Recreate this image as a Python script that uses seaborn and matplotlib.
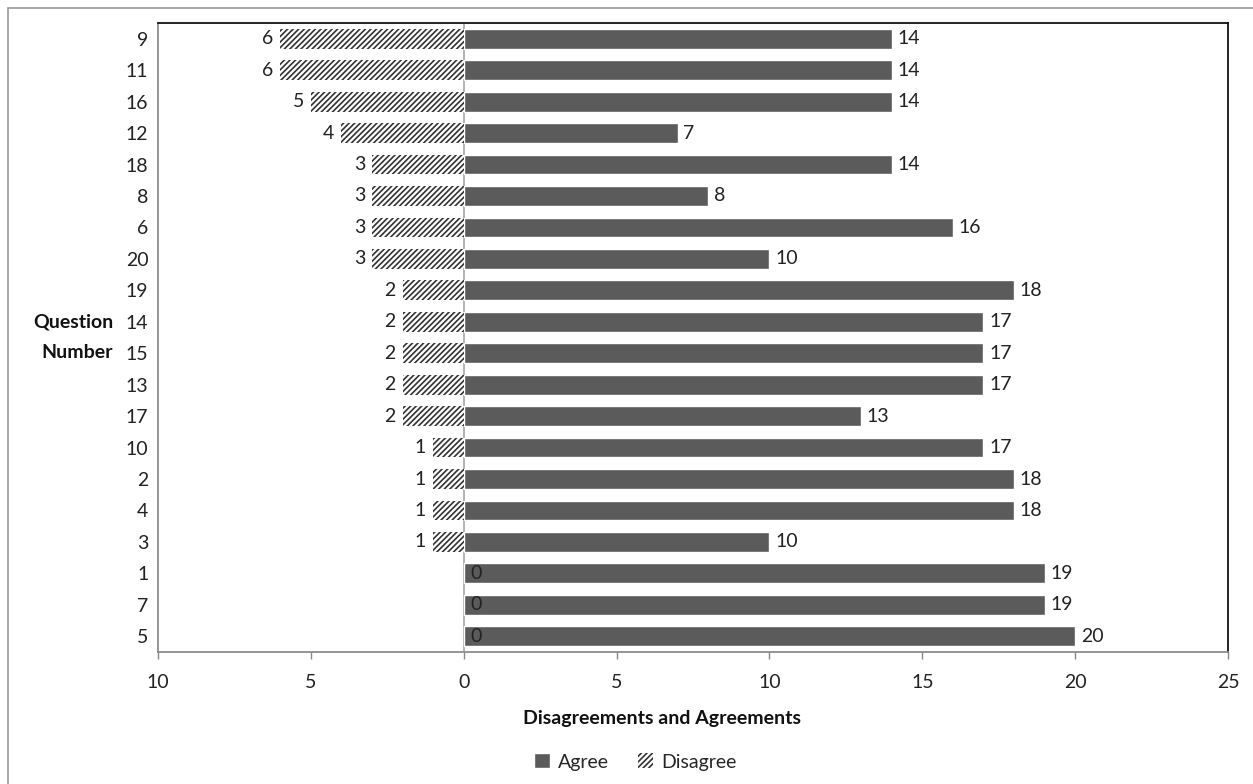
import matplotlib
matplotlib.use("Agg")
import matplotlib.pyplot as plt
import matplotlib.patches as mpatches
import seaborn as sns
import pandas as pd

# Data (top to bottom)
questions = ["9", "11", "16", "12", "18", "8", "6", "20", "19", "14",
             "15", "13", "17", "10", "2", "4", "3", "1", "7", "5"]
agree = [14, 14, 14, 7, 14, 8, 16, 10, 18, 17, 17, 17, 13, 17, 18, 18, 10, 19, 19, 20]
disagree = [6, 6, 5, 4, 3, 3, 3, 3, 2, 2, 2, 2, 2, 1, 1, 1, 1, 0, 0, 0]
x_ticks = [-10, -5, 0, 5, 10, 15, 20, 25]

df = pd.DataFrame({"Question": questions, "Agree": agree,
                   "Disagree": [-d for d in disagree]})

sns.set_style("white")
plt.rcParams["font.family"] = ["Lato", "DejaVu Sans"]
plt.rcParams["hatch.linewidth"] = 1.2

fig = plt.figure(figsize=(12.53, 7.84), dpi=100)
ax = fig.add_axes([158 / 1253, 1 - 652 / 784, 1070 / 1253, 629 / 784])

bar_col = "#5b5b5b"
hatch_col = "#333333"
sns.barplot(data=df, y="Question", x="Agree", order=questions, orient="h",
            color=bar_col, saturation=1, width=0.63, ax=ax)
sns.barplot(data=df, y="Question", x="Disagree", order=questions, orient="h",
            color="white", saturation=1, width=0.63, ax=ax,
            hatch="//////", edgecolor=hatch_col, linewidth=0)

# value labels
ax.bar_label(ax.containers[0], labels=[str(v) for v in agree], padding=4,
             fontsize=14, color="#222222")
ax.bar_label(ax.containers[1], labels=[str(v) for v in disagree], padding=5,
             fontsize=14, color="#222222")

ax.axvline(0, color="#a6a6a6", lw=1.2, zorder=0)

ax.set_xlim(-10, 25)
ax.set_xticks(x_ticks)
ax.set_xticklabels([str(abs(t)) for t in x_ticks], fontsize=14, color="#222222")
ax.tick_params(axis="x", direction="out", length=5, width=1, color="#888888",
               pad=11, bottom=True)
ax.tick_params(axis="y", length=0, pad=7, labelsize=14, labelcolor="#222222")

for side in ["top", "right"]:
    ax.spines[side].set_color("#111111")
for side in ["left", "bottom"]:
    ax.spines[side].set_color("#8c8c8c")
for s in ax.spines.values():
    s.set_linewidth(1.3)

ax.set_ylabel("Question\nNumber", rotation=0, fontsize=14, fontweight="bold",
              ha="right", va="center", color="#111111", linespacing=1.95)
ax.yaxis.set_label_coords(-0.042, 0.5)
ax.set_xlabel("Disagreements and Agreements", fontsize=14, fontweight="bold",
              color="#111111")
ax.xaxis.set_label_coords(0.471, -0.093)

handles = [mpatches.Patch(facecolor=bar_col, label="Agree"),
           mpatches.Patch(facecolor="white", edgecolor=hatch_col, hatch="//////",
                          linewidth=0, label="Disagree")]
fig.legend(handles=handles, loc="center", bbox_to_anchor=(0.507, 1 - 762 / 784),
           ncol=2, frameon=False, fontsize=14, handlelength=0.8,
           handleheight=0.8, handletextpad=0.4, columnspacing=1.5)

# outer chart border
fig.patches.append(mpatches.Rectangle((8 / 1253, -0.05), 1.1, 1 - 8 / 784 + 0.05,
                                      transform=fig.transFigure, fill=False,
                                      edgecolor="#9a9a9a", lw=1.2))

fig.savefig("out.png", dpi=100)
